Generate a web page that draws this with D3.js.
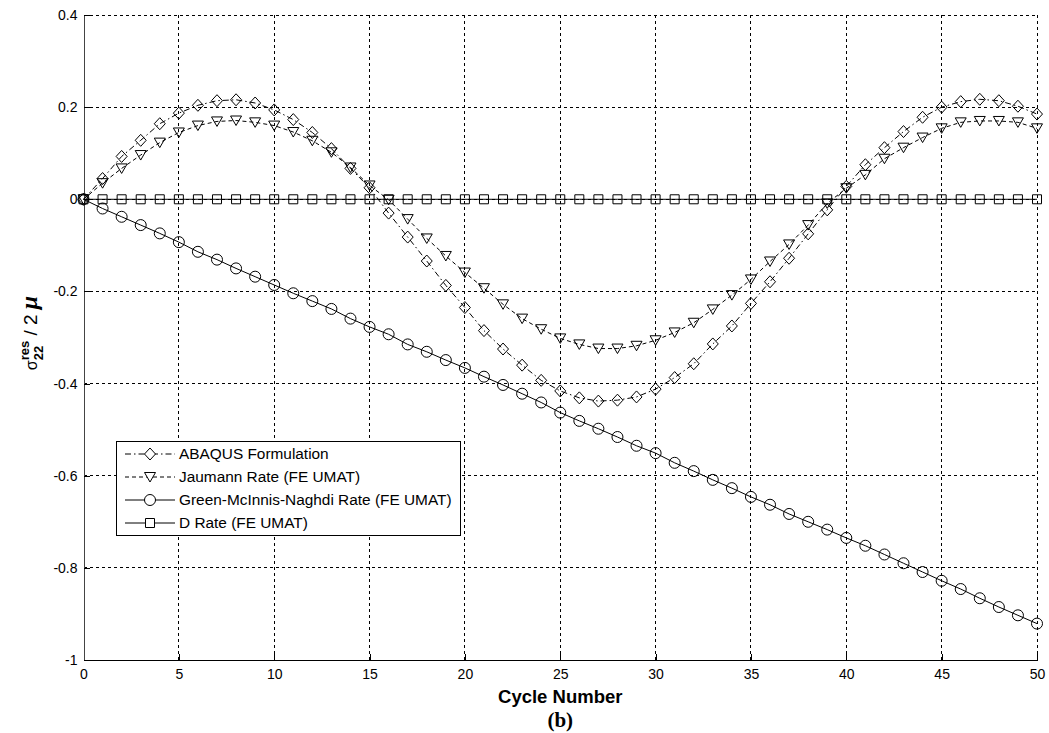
<!DOCTYPE html>
<html>
<head>
<meta charset="utf-8">
<script src="https://cdn.jsdelivr.net/npm/d3@7.9.0/dist/d3.min.js"></script>
<style>
  body { margin: 0; background: #fff; }
  svg { display: block; font-family: "Liberation Sans", Arial, sans-serif; }
</style>
</head>
<body>
<svg id="chart" width="1049" height="733"></svg>
<script>
// x values (cycle number)
const cycles = [0,1,2,3,4,5,6,7,8,9,10,11,12,13,14,15,16,17,18,19,20,21,22,23,24,25,
  26,27,28,29,30,31,32,33,34,35,36,37,38,39,40,41,42,43,44,45,46,47,48,49,50];

const abaqus = [0,0.045,0.093,0.128,0.164,0.187,0.204,0.214,0.216,0.209,0.194,0.173,0.145,
  0.110,0.067,0.025,-0.030,-0.082,-0.134,-0.187,-0.235,-0.285,-0.325,-0.360,-0.393,-0.416,
  -0.431,-0.438,-0.436,-0.429,-0.412,-0.387,-0.357,-0.314,-0.275,-0.226,-0.179,-0.128,-0.075,
  -0.023,0.028,0.075,0.112,0.147,0.178,0.200,0.212,0.217,0.214,0.202,0.185];

const jaumann = [0,0.035,0.067,0.096,0.123,0.145,0.160,0.169,0.171,0.167,0.160,0.146,0.127,
  0.102,0.069,0.030,-0.001,-0.043,-0.085,-0.123,-0.159,-0.193,-0.228,-0.259,-0.282,-0.302,
  -0.315,-0.324,-0.324,-0.318,-0.306,-0.289,-0.268,-0.239,-0.208,-0.174,-0.135,-0.098,-0.056,
  -0.009,0.024,0.053,0.088,0.112,0.134,0.154,0.167,0.170,0.170,0.167,0.154];

const greenNaghdi = [0,-0.020,-0.038,-0.056,-0.074,-0.093,-0.114,-0.131,-0.150,-0.168,-0.186,
  -0.204,-0.221,-0.238,-0.259,-0.277,-0.293,-0.315,-0.331,-0.349,-0.366,-0.385,-0.403,-0.422,
  -0.441,-0.463,-0.481,-0.498,-0.516,-0.535,-0.551,-0.572,-0.590,-0.609,-0.627,-0.646,-0.663,
  -0.683,-0.700,-0.717,-0.735,-0.752,-0.771,-0.790,-0.809,-0.828,-0.846,-0.866,-0.885,-0.903,-0.921];

const dRate = [0,0,0,0,0,0,0,0,0,0,0,0,0,0,0,0,0,0,0,0,0,0,0,0,0,0,
  0,0,0,0,0,0,0,0,0,0,0,0,0,0,0,0,0,0,0,0,0,0,0,0,0];

const seriesNames = ["ABAQUS Formulation", "Jaumann Rate (FE UMAT)",
  "Green-McInnis-Naghdi Rate (FE UMAT)", "D Rate (FE UMAT)"];

const xTicks = [0,5,10,15,20,25,30,35,40,45,50];
const yTicks = [0.4,0.2,0,-0.2,-0.4,-0.6,-0.8,-1];
const yTickLabels = ["0.4","0.2","0","-0.2","-0.4","-0.6","-0.8","-1"];

const plotLeft = 83.5, plotRight = 1037, plotTop = 15, plotBottom = 660;

const svg = d3.select('#chart');

let x = d3.scaleLinear().domain([0, 50]).range([plotLeft, plotRight]);
let y = d3.scaleLinear().domain([-1, 0.4]).range([plotBottom, plotTop]);

// marker shapes (unfilled, like matlab)
const shapes = {
  diamond: (cx, cy) => `M${cx},${cy-6}L${cx+5.5},${cy}L${cx},${cy+6}L${cx-5.5},${cy}Z`,
  triangle: (cx, cy) => `M${cx-5.5},${cy-4.5}L${cx+5.5},${cy-4.5}L${cx},${cy+5}Z`,
  circle: (cx, cy) => `M${cx-5.5},${cy}a5.5,5.5 0 1,0 11,0a5.5,5.5 0 1,0 -11,0`,
  square: (cx, cy) => `M${cx-4.5},${cy-4.5}h9v9h-9Z`
};

const series = [
  { name: seriesNames[0], values: abaqus, shape: 'diamond', dash: '6,3,1.5,3' },
  { name: seriesNames[1], values: jaumann, shape: 'triangle', dash: '4,3' },
  { name: seriesNames[2], values: greenNaghdi, shape: 'circle', dash: null },
  { name: seriesNames[3], values: dRate, shape: 'square', dash: null }
];

// grid
const grid = svg.append('g')
  .attr('stroke', '#000')
  .attr('stroke-width', 1)
  .attr('stroke-dasharray', '3,3')
  .attr('shape-rendering', 'crispEdges');

xTicks.filter(d => d !== 0).forEach(d => {
  grid.append('line')
    .attr('x1', x(d)).attr('x2', x(d))
    .attr('y1', plotTop).attr('y2', plotBottom);
});
yTicks.filter(d => d !== -1).forEach(d => {
  grid.append('line')
    .attr('x1', plotLeft).attr('x2', plotRight)
    .attr('y1', y(d)).attr('y2', y(d));
});

// axes
let xAxis = d3.axisBottom(x)
  .tickValues(xTicks)
  .tickFormat(d => String(d))
  .tickSizeInner(-6)
  .tickSizeOuter(0)
  .tickPadding(9);

let yAxis = d3.axisLeft(y)
  .tickValues(yTicks)
  .tickFormat((d, i) => yTickLabels[i])
  .tickSizeInner(-6)
  .tickSizeOuter(0)
  .tickPadding(6);

const gx = svg.append('g')
  .attr('transform', `translate(0,${plotBottom})`)
  .call(xAxis);
const gy = svg.append('g')
  .attr('transform', `translate(${plotLeft},0)`)
  .call(yAxis);

[gx, gy].forEach(g => {
  g.attr('shape-rendering', 'crispEdges');
  g.selectAll('text')
    .attr('font-family', '"Liberation Sans", Arial, sans-serif')
    .attr('font-size', 14)
    .attr('fill', '#000');
  g.selectAll('line').attr('stroke', '#000');
});
gx.select('.domain').attr('stroke', '#000');
gy.select('.domain').attr('stroke', '#444');

// lines + markers
let lineGen = d3.line()
  .x((d, i) => x(cycles[i]))
  .y(d => y(d));

series.forEach(s => {
  svg.append('path')
    .attr('d', lineGen(s.values))
    .attr('fill', 'none')
    .attr('stroke', '#000')
    .attr('stroke-width', 1)
    .attr('stroke-dasharray', s.dash);

  svg.append('g')
    .selectAll('path')
    .data(s.values)
    .join('path')
    .attr('d', (d, i) => shapes[s.shape](x(cycles[i]), y(d)))
    .attr('fill', 'none')
    .attr('stroke', '#000')
    .attr('stroke-width', 1);
});

// legend
const legend = svg.append('g');
legend.append('rect')
  .attr('x', 116.5).attr('y', 441.5)
  .attr('width', 344).attr('height', 94)
  .attr('fill', '#fff')
  .attr('stroke', '#000');

series.forEach((s, idx) => {
  const ly = 454 + idx * 23;
  legend.append('line')
    .attr('x1', 125).attr('x2', 175)
    .attr('y1', ly).attr('y2', ly)
    .attr('stroke', '#000')
    .attr('stroke-dasharray', s.dash);
  legend.append('path')
    .attr('d', shapes[s.shape](150, ly))
    .attr('fill', '#fff')
    .attr('stroke', '#000');
  legend.append('text')
    .attr('x', 179).attr('y', ly)
    .attr('dy', '0.35em')
    .attr('font-size', 15.4)
    .text(s.name);
});

// axis labels
svg.append('text')
  .attr('x', (plotLeft + plotRight) / 2).attr('y', 703)
  .attr('text-anchor', 'middle')
  .attr('font-size', 18.5)
  .attr('font-weight', 'bold')
  .text('Cycle Number');

svg.append('text')
  .attr('x', (plotLeft + plotRight) / 2).attr('y', 727)
  .attr('text-anchor', 'middle')
  .attr('font-family', '"Liberation Serif", "Times New Roman", serif')
  .attr('font-size', 21)
  .attr('font-weight', 'bold')
  .text('(b)');

const yl = svg.append('text')
  .attr('transform', `translate(37,333) rotate(-90)`)
  .attr('text-anchor', 'middle');
yl.append('tspan').attr('font-size', 16).text('σ');
yl.append('tspan').attr('font-size', 13).attr('font-weight', 'bold').attr('dy', -8).text('res');
yl.append('tspan').attr('font-size', 13).attr('font-weight', 'bold').attr('dx', -19.5).attr('dy', 14).text('22');
yl.append('tspan').attr('font-size', 19).attr('dx', 5).attr('dy', -6).text(' / 2 ');
yl.append('tspan')
  .attr('font-family', '"Liberation Serif", "Times New Roman", serif')
  .attr('font-size', 24).attr('font-weight', 'bold').attr('font-style', 'italic')
  .text('μ');
</script>
</body>
</html>
